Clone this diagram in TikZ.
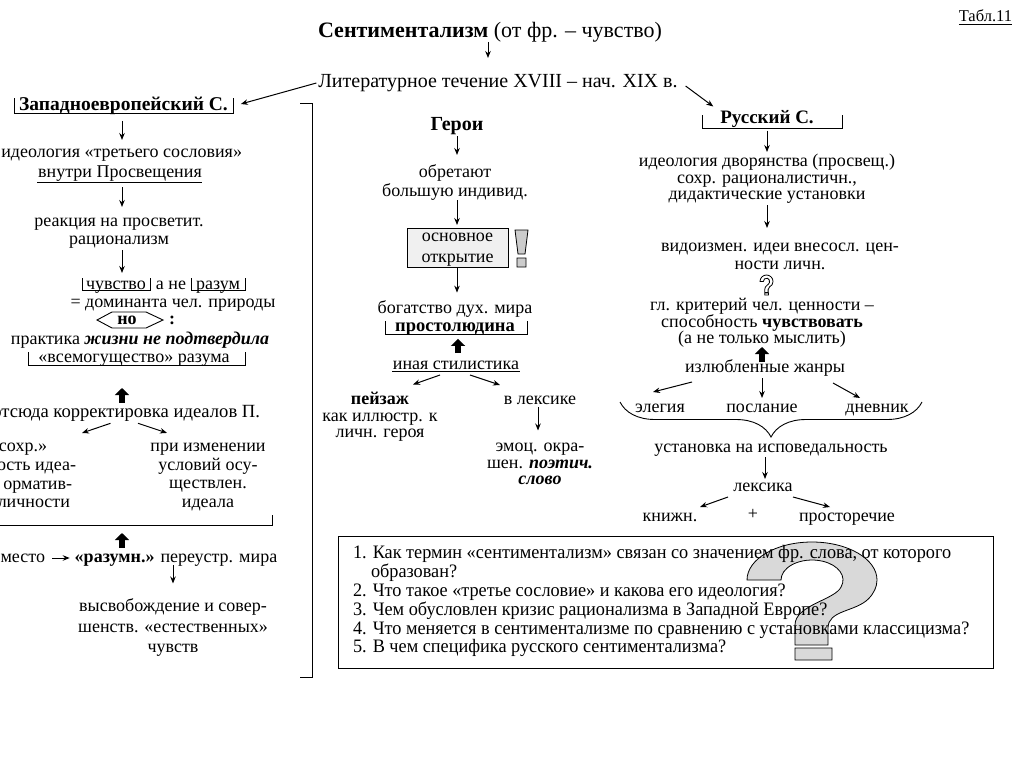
\documentclass[tikz,border=0pt]{standalone}
\usepackage{fontspec}
\setmainfont{Liberation Serif}
\newfontfamily\qfont[FakeStretch=0.96]{Liberation Serif}
\usetikzlibrary{arrows.meta,calc,decorations.pathreplacing}
\newcommand\st{\rule[-.25em]{0pt}{1em}}
\newcommand\fsz[2]{\fontsize{#1}{#2}\selectfont\lineskiplimit=-50pt\lineskip=0pt\relax}
\newcommand\qmark{(0,38) arc[start angle=180,end angle=390,x radius=65,y radius=38] .. controls (108,70) and (81,68) .. (81,86) -- (81,103) -- (48,103) -- (48,83) .. controls (48,63) and (88,58) .. (94.13,44.84) arc[start angle=20,end angle=-180,x radius=31,y radius=20] -- cycle (48,106) rectangle (85,118)}
\tikzset{
  t/.style={inner sep=0pt,outer sep=0pt,align=center,font=\fsz{18}{18}},
  hd/.style={t,font=\fsz{20}{20}\bfseries},
  arr/.style={line width=1pt,-{Stealth[length=7pt,width=5.5pt]}},
  fat/.style={line width=5.5pt,-{Triangle[length=7pt,width=14pt]}},
  brk/.style={line width=0.9pt},
}
\begin{document}
\begin{tikzpicture}[x=1pt,y=-1pt]
\useasboundingbox (0,0) rectangle (1024,768);
\clip (0,0) rectangle (1024,768);
\fill[white] (0,0) rectangle (1024,768);

% ---------- top ----------
\node[t,font=\fsz{22}{22}] (title) at (490,32) {\st\textbf{Сентиментализм} (от фр. – чувство)};
\node[t,font=\fsz{20}{20}] (lit) at (498,82) {\st Литературное течение XVIII – нач. XIX в.};
\node[t,font=\fsz{16.5}{16.5},anchor=east] (tabl) at (1012,17) {\st Табл.11};
\draw[line width=.7pt] ($(tabl.south west)+(0,-1)$) -- ($(tabl.south east)+(0,-1)$);
\draw[arr] ($(title.south)+(-2,-1)$) -- ($(title.south |- lit.north)+(-2,-14)$);

% ---------- left column ----------
\node[hd,font=\fsz{19.5}{19.5}\bfseries] (zap) at (123.5,106) {\st Западноевропейский С.};
\node[t,anchor=east] (ideo) at (242,153) {\st идеология «третьего сословия»};
\node[t] (vnutri) at (120,173) {\st внутри Просвещения};
\node[t] (reakc) at (119,231) {\st реакция на просветит.\\рационализм\st};
\node[t] (chuv) at (116,285) {\st чувство};
\node[t] (ane) at (171,285) {\st а не};
\node[t] (razum) at (218,285) {\st разум};
\node[t] (domin) at (173,303) {\st = доминанта чел. природы};
\node[t,font=\fsz{18}{18}\bfseries] (no) at (127,320) {\st но};
\node[t,font=\fsz{18}{18}\bfseries] (colon) at (172,320) {\st :};
\node[t] (prakt) at (140,340) {\st практика \textbf{\itshape жизни не подтвердила}};
\node[t] (vsemog) at (134,358) {\st «всемогущество» разума};
\node[t,anchor=east,font=\fsz{18.6}{18.6}] (otsuda) at (260,413) {\st отсюда корректировка идеалов П.};
\node[t,anchor=east] (cut1) at (47,447) {\st «сохр.»};
\node[t,anchor=east] (cut2) at (76,466) {\st ость идеа-};
\node[t,anchor=east] (cut3) at (72,485) {\st орматив-};
\node[t,anchor=east] (cut4) at (70,503) {\st личности};
\node[t,font=\fsz{18}{18.7}] (pri) at (208,475) {\st при изменении\\условий осу-\\ществлен.\\идеала\st};
\node[t,anchor=east] (mesto) at (45,558) {\st место};
\node[t] (razumn) at (176,558) {\st\textbf{«разумн.»} переустр. мира};
\node[t,font=\fsz{18}{20.5}] (vysv) at (173,627.5) {\st высвобождение и совер-\\шенств. «естественных»\\чувств\st};

\draw[brk] (14,98) |- (233,113) -- (233,98);
\draw[line width=.8pt] (37,182) -- (202,182);
\draw[brk] (82,278) |- (150,290) -- (150,278);
\draw[brk] (191,278) |- (245,290) -- (245,278);
\draw[brk] (97,320) -- (112,312) -- (146,312) -- (163,320) -- (146,328) -- (112,328) -- cycle;
\draw[brk] (28,352) |- (245,365) -- (245,352);
\draw[brk] (0,525) -- (272,525) -- (272,515);
\draw[brk] (300,103) -- (312,103) -- (312,677) -- (300,677);

\draw[arr] ($(lit.west)+(-2,1)$) -- ($(zap.east)+(13,-2)$);
\draw[arr] ($(zap.south)+(-1.5,5)$) -- ($(zap.south |- ideo.north)+(-1.5,-4)$);
\draw[arr] ($(zap.south |- vnutri.south)+(-1.5,5)$) -- ($(zap.south |- reakc.north)+(-1.5,-6)$);
\draw[arr] ($(zap.south |- reakc.south)+(-1.5,1)$) -- ($(zap.south |- chuv.north)+(-1.5,-3)$);
\draw[fat] ($(zap.south |- otsuda.north)+(-1.5,-1)$) -- ($(zap.south |- vsemog.south)+(-1.5,21)$);
\draw[arr] ($(zap.south |- otsuda.south)+(-13,1)$) -- ($(cut1.east)+(35,-14)$);
\draw[arr] ($(zap.south |- otsuda.south)+(14.5,1)$) -- ($(pri.north)+(-41,-5)$);
\draw[fat] ($(zap.south |- razumn.north)+(-1.5,-1)$) -- ($(zap.south |- razumn.north)+(-1.5,-16)$);
\draw[arr] ($(mesto.east)+(7,0)$) -- ($(razumn.west)+(-5,0)$);
\draw[arr] ($(vysv.north |- razumn.south)+(0,-2)$) -- ($(vysv.north)+(0,-14.5)$);

% ---------- middle column ----------
\node[hd] (geroi) at (457,125) {\st Герои};
\node[t,font=\fsz{18}{19}] (obret) at (455,182.5) {\st обретают\\большую индивид.\st};
\node[t,draw,fill=gray!12,line width=.8pt,minimum width=101pt,minimum height=39pt,font=\fsz{18}{21}] (osn) at (457.5,247.5) {\st основное\\открытие\st};
\filldraw[fill=gray!40,line width=.8pt] (515,230) -- (528,230) -- (525,254) -- (518,254) -- cycle (517,258) rectangle (526,267);
\node[t,anchor=base] (bogat) at (455,313.5) {богатство дух. мира};
\node[t,anchor=base,font=\fsz{18.5}{18.5}\bfseries] (prost) at (455,331) {простолюдина};
\draw[brk] (385,321) |- (527,334) -- (527,321);
\node[t] (inaya) at (456,365) {\st иная стилистика};
\draw[line width=.8pt] (392,371) -- (520,371);
\node[t,font=\fsz{18}{16.5}] (peyz) at (380,416.5) {\st\textbf{пейзаж}\\как иллюстр. к\\личн. героя\st};
\node[t] (vlex) at (540,400) {\st в лексике};
\node[t,font=\fsz{18}{16.5}] (emoc) at (540,463.5) {\st эмоц. окра-\\шен. \textbf{\itshape поэтич.}\\\textbf{\itshape слово}\st};

\draw[arr] ($(geroi.south)+(0,1)$) -- ($(geroi.south |- obret.north)+(0,-9)$);
\draw[arr] ($(geroi.south |- obret.south)+(0,-1)$) -- ($(geroi.south |- osn.north)+(0,-3)$);
\draw[arr] (geroi.south |- osn.south) -- ($(geroi.south |- bogat.north)+(0,-8)$);
\draw[fat] ($(inaya.north)+(2,-3)$) -- ($(prost.south)+(3,4)$);
\draw[arr] ($(inaya.south)+(-16,1)$) -- ($(peyz.north)+(33,-6.5)$);
\draw[arr] ($(inaya.south)+(14,1)$) -- ($(vlex.north)+(-40,-6)$);
\draw[arr] ($(vlex.south)+(-2,-2)$) -- ($(vlex.south |- emoc.north)+(-2,-7.5)$);

% ---------- right column ----------
\node[t,font=\fsz{19}{19}\bfseries] (rus) at (767,119) {\st Русский С.};
\draw[brk] (702,115) |- (842,128) -- (842,115);
\draw[arr] ($(lit.east)+(8,4)$) -- ($(rus.north west)+(-7,-3)$);
\node[t,font=\fsz{18}{16.5}] (ideo2) at (767,178.5) {\st идеология дворянства (просвещ.)\\сохр. рационалистичн.,\\дидактические установки\st};
\node[t,font=\fsz{18}{18}] (vidoizm) at (780,256) {\st видоизмен. идеи внесосл. цен-\\ности личн.\st};
\begin{scope}[shift={(760,275)},xscale=0.1,yscale=0.17]
\filldraw[fill=white,line width=.8pt] \qmark;
\end{scope}
\node[t,font=\fsz{18}{16.5}] (krit) at (762,322.5) {\st гл. критерий чел. ценности –\\способность \textbf{чувствовать}\\(а не только мыслить)\st};
\node[t] (izl) at (765,368) {\st излюбленные жанры};
\node[t] (eleg) at (660,408) {\st элегия};
\node[t] (posl) at (762,408) {\st послание};
\node[t] (dnev) at (877,408) {\st дневник};
\draw[brk,decorate,decoration={brace,amplitude=35pt}] (922,402) -- (620,402);
\node[t] (ustan) at (771,448) {\st установка на исповедальность};
\node[t] (lex) at (763,487) {\st лексика};
\node[t] (knizh) at (670,517) {\st книжн.};
\node[t] (plus) at (753,515) {\st +};
\node[t] (prost2) at (847,517) {\st просторечие};

\draw[arr] ($(rus.south)+(0,2)$) -- ($(rus.south |- ideo2.north)+(0,-1)$);
\draw[arr] ($(ideo2.south)+(0,1)$) -- ($(ideo2.south |- vidoizm.north)+(0,-10)$);
\draw[fat] ($(izl.north)+(-3,3)$) -- ($(izl.north |- krit.south)+(-3,-1)$);
\draw[arr] ($(izl.south)+(-73,5)$) -- ($(eleg.north)+(-7,-7)$);
\draw[arr] ($(izl.south)+(-3,1)$) -- ($(izl.south |- posl.north)+(-3,-1)$);
\draw[arr] ($(izl.south)+(68,6)$) -- ($(dnev.north)+(-17,-1)$);
\draw[arr] ($(ustan.south)+(-6,0)$) -- ($(ustan.south |- lex.north)+(-6,1)$);
\draw[arr] ($(lex.south)+(-35,1)$) -- ($(knizh.north)+(30,-1)$);
\draw[arr] ($(lex.south)+(30,1)$) -- ($(prost2.north)+(-17,-1)$);

% ---------- questions ----------
\draw[line width=1pt] (338,536) rectangle (993,668);
\begin{scope}[shift={(747,542)}]
\filldraw[fill=gray!30,line width=.8pt] \qmark;
\end{scope}
\begin{scope}[every node/.style={t,anchor=west,font=\qfont\fsz{19}{19}}]
\node (q1) at (353,554) {\st 1. Как термин «сентиментализм» связан со значением фр. слова, от которого};
\node (q1b) at (371,573) {\st образован?};
\node (q2) at (353,592) {\st 2. Что такое «третье сословие» и какова его идеология?};
\node (q3) at (353,611) {\st 3. Чем обусловлен кризис рационализма в Западной Европе?};
\node (q4) at (353,629.5) {\st 4. Что меняется в сентиментализме по сравнению с установками классицизма?};
\node (q5) at (353,648) {\st 5. В чем специфика русского сентиментализма?};
\end{scope}
\end{tikzpicture}
\end{document}
